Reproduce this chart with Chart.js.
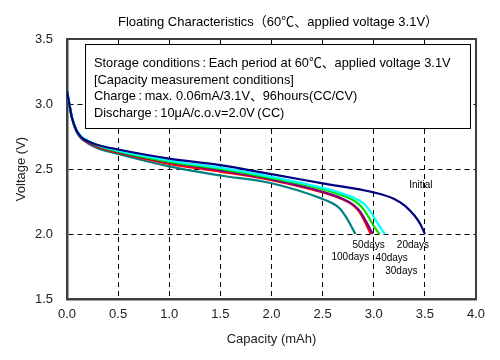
<!DOCTYPE html>
<html><head><meta charset="utf-8">
<script src="https://cdn.jsdelivr.net/npm/chart.js@4/dist/chart.umd.min.js"></script>
<style>html,body{margin:0;padding:0;background:#fff}</style>
</head><body>
<canvas id="c" width="500" height="360" style="display:block;width:500px;height:360px"></canvas>
<script>
// ---- data ----
const chartTitle = 'Floating Characteristics（60℃、applied voltage 3.1V）';
const xTitle = 'Capacity (mAh)';
const yTitle = 'Voltage (V)';
const xTicks = [0.0, 0.5, 1.0, 1.5, 2.0, 2.5, 3.0, 3.5, 4.0];
const yTicks = [1.5, 2.0, 2.5, 3.0, 3.5];
const seriesNames = ['Initial', '20days', '30days', '40days', '50days', '100days'];
const noteLines = [
  'Storage conditions\u2009:\u2009Each period at 60℃、applied voltage 3.1V',
  '[Capacity measurement conditions]',
  'Charge\u2009:\u2009max. 0.06mA/3.1V、96hours(CC/CV)',
  'Discharge\u2009:\u200910μA/c.o.v=2.0V\u2009(CC)'
];

const capInitial  = [0, 0.02, 0.05, 0.09, 0.14, 0.2, 0.3, 0.5, 1.0, 1.5, 2.0, 2.5, 3.0, 3.2, 3.3, 3.4, 3.46, 3.5];
const voltInitial = [3.10, 3.01, 2.89, 2.80, 2.745, 2.715, 2.685, 2.65, 2.58, 2.53, 2.46, 2.39, 2.32, 2.27, 2.22, 2.14, 2.07, 2.0];
const cap20  = [0, 0.02, 0.05, 0.09, 0.14, 0.2, 0.3, 0.5, 1.0, 1.5, 2.0, 2.5, 2.7, 2.8, 2.9, 2.97, 3.04, 3.11];
const volt20 = [3.10, 3.01, 2.89, 2.80, 2.75, 2.72, 2.685, 2.64, 2.565, 2.51, 2.44, 2.355, 2.31, 2.28, 2.235, 2.17, 2.08, 2.0];
const cap30  = [0, 0.02, 0.05, 0.09, 0.14, 0.2, 0.3, 0.5, 1.0, 1.5, 2.0, 2.5, 2.7, 2.8, 2.88, 2.95, 3.01, 3.055];
const volt30 = [3.10, 3.01, 2.89, 2.80, 2.745, 2.715, 2.68, 2.635, 2.555, 2.50, 2.43, 2.345, 2.295, 2.26, 2.21, 2.13, 2.05, 2.0];
const cap40  = [0, 0.02, 0.05, 0.09, 0.14, 0.2, 0.3, 0.5, 1.0, 1.5, 2.0, 2.5, 2.7, 2.8, 2.87, 2.93, 2.99];
const volt40 = [3.10, 3.01, 2.89, 2.80, 2.74, 2.71, 2.675, 2.63, 2.55, 2.49, 2.42, 2.325, 2.27, 2.225, 2.17, 2.09, 2.0];
const cap50  = [0, 0.02, 0.05, 0.09, 0.14, 0.2, 0.3, 0.5, 1.0, 1.5, 2.0, 2.5, 2.7, 2.8, 2.86, 2.91, 2.97];
const volt50 = [3.10, 3.01, 2.89, 2.80, 2.74, 2.705, 2.67, 2.625, 2.54, 2.48, 2.415, 2.32, 2.265, 2.22, 2.17, 2.10, 2.0];
const cap100  = [0, 0.02, 0.05, 0.09, 0.14, 0.2, 0.3, 0.5, 1.0, 1.5, 2.0, 2.5, 2.6, 2.67, 2.73, 2.78, 2.82];
const volt100 = [3.10, 3.01, 2.89, 2.79, 2.735, 2.70, 2.66, 2.615, 2.52, 2.45, 2.39, 2.27, 2.235, 2.195, 2.13, 2.06, 2.0];

// ---- style ----
const FONT = '"Liberation Sans", Arial, "Noto Sans CJK JP", sans-serif';
const colors = ['#000080', '#00FFFF', '#00E000', '#800080', '#FF0000', '#008080'];
const labelOffsets = [[-4, -49], [28, 11], [22, 37], [19, 24], [-2, 11], [-5, 23]];

const caps = [capInitial, cap20, cap30, cap40, cap50, cap100];
const volts = [voltInitial, volt20, volt30, volt40, volt50, volt100];

const datasets = seriesNames.map((name, i) => ({
  label: name,
  data: caps[i].map((c, j) => ({x: c, y: volts[i][j]})),
  borderColor: colors[i],
  backgroundColor: colors[i],
  borderWidth: 2.2,
  pointRadius: 0,
  showLine: true,
  fill: false,
  cubicInterpolationMode: 'monotone'
}));

const overlay = {
  id: 'overlay',
  afterDraw(chart) {
    const {ctx, chartArea: a, scales: {x, y}} = chart;
    ctx.save();
    ctx.strokeStyle = '#404040';
    ctx.lineWidth = 2;
    ctx.beginPath();
    ctx.moveTo(a.left, a.top); ctx.lineTo(a.right, a.top); ctx.lineTo(a.right, a.bottom);
    ctx.stroke();
    ctx.fillStyle = '#000';
    ctx.font = '13px ' + FONT;
    ctx.textAlign = 'center';
    ctx.textBaseline = 'middle';
    ctx.fillText(chartTitle, 278, 22);
    ctx.fillStyle = '#fff';
    ctx.fillRect(85, 44, 385, 84);
    ctx.strokeStyle = '#000';
    ctx.lineWidth = 1;
    ctx.strokeRect(85.5, 44.5, 385, 84);
    ctx.fillStyle = '#000';
    ctx.font = '12.8px ' + FONT;
    ctx.textAlign = 'left';
    ctx.textBaseline = 'alphabetic';
    const base = [67, 84, 100, 117];
    noteLines.forEach((t, i) => ctx.fillText(t, 94, base[i]));
    ctx.font = '10px ' + FONT;
    ctx.textAlign = 'center';
    ctx.textBaseline = 'middle';
    seriesNames.forEach((n, i) => {
      const last = caps[i].length - 1;
      const px = x.getPixelForValue(caps[i][last]);
      const py = y.getPixelForValue(volts[i][last]);
      ctx.fillText(n, px + labelOffsets[i][0], py + labelOffsets[i][1]);
    });
    ctx.restore();
  }
};

new Chart(document.getElementById('c'), {
  type: 'scatter',
  data: {datasets},
  options: {
    responsive: false,
    animation: false,
    devicePixelRatio: 1,
    layout: {padding: {top: 39, left: 0, right: 24, bottom: 0}},
    plugins: {legend: {display: false}, tooltip: {enabled: false}, title: {display: false}},
    scales: {
      x: {
        type: 'linear', min: 0, max: 4,
        afterBuildTicks: s => { s.ticks = xTicks.map(v => ({value: v})); },
        afterFit: s => { s.height = 61; },
        ticks: {callback: v => v.toFixed(1), font: {family: FONT, size: 13}, color: '#222', padding: 8, maxRotation: 0},
        grid: {color: '#000', lineWidth: 1, drawTicks: false},
        border: {display: true, color: '#404040', width: 2.5, dash: [5, 4]},
        title: {display: true, text: xTitle, font: {family: FONT, size: 13}, color: '#222', padding: {top: 0, bottom: 13}}
      },
      y: {
        type: 'linear', min: 1.5, max: 3.5,
        afterBuildTicks: s => { s.ticks = yTicks.map(v => ({value: v})); },
        afterFit: s => { s.width = 67; },
        ticks: {callback: v => v.toFixed(1), font: {family: FONT, size: 13}, color: '#222', padding: 14},
        grid: {color: '#000', lineWidth: 1, drawTicks: false},
        border: {display: true, color: '#404040', width: 2.5, dash: [5, 4]},
        title: {display: true, text: yTitle, font: {family: FONT, size: 13}, color: '#222', padding: {top: 14, bottom: 0}}
      }
    }
  },
  plugins: [overlay]
});
</script>
</body></html>
